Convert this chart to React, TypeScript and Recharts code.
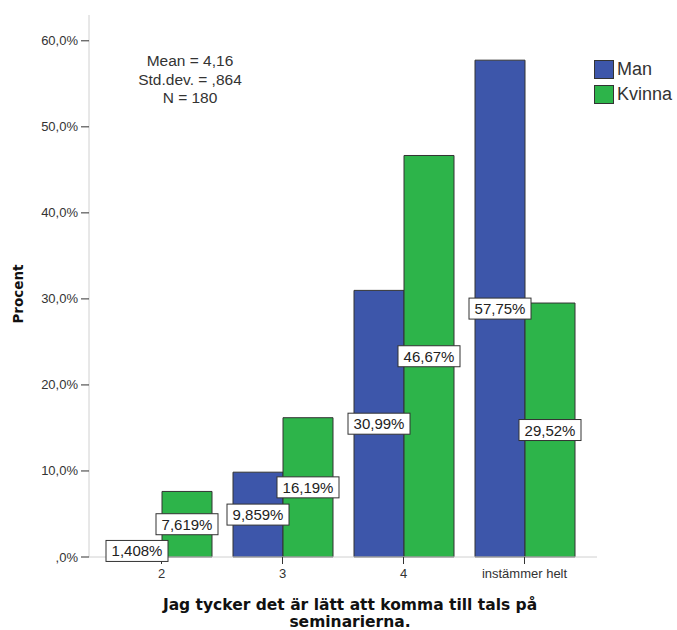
import { Bar, BarChart, LabelList, XAxis, YAxis } from 'recharts'

const categories = ['2', '3', '4', 'instämmer helt']
const manValues = [1.408, 9.859, 30.99, 57.75]
const kvinnaValues = [7.619, 16.19, 46.67, 29.52]
const manLabels = ['1,408%', '9,859%', '30,99%', '57,75%']
const kvinnaLabels = ['7,619%', '16,19%', '46,67%', '29,52%']
const yTicks = [0, 10, 20, 30, 40, 50, 60]
const yTickLabels = [',0%', '10,0%', '20,0%', '30,0%', '40,0%', '50,0%', '60,0%']
const statLines = ['Mean = 4,16', 'Std.dev. = ,864', 'N = 180']

const data = categories.map((c, i) => ({
  cat: c,
  man: manValues[i],
  kvinna: kvinnaValues[i],
  manLabel: manLabels[i],
  kvinnaLabel: kvinnaLabels[i],
}))

const BLUE = '#3D56AA'
const GREEN = '#2DB44A'
const FONT = '"Liberation Sans", Arial, sans-serif'
const TITLE_FONT = '"DejaVu Sans", sans-serif'

const BoxLabel = (props: any) => {
  const { x, y, width, height, value } = props
  const cx = x + width / 2
  const cy = y + height / 2
  const w = String(value).length * 9 + 8
  return (
    <g>
      <rect x={cx - w / 2} y={cy - 10.5} width={w} height={21} fill="#fff" stroke="#333" strokeWidth={1} />
      <text x={cx} y={cy + 5.5} textAnchor="middle" fontSize={15} fontFamily={FONT} fill="#222">
        {value}
      </text>
    </g>
  )
}

const YTick = (props: any) => {
  const { x, y, payload } = props
  const idx = yTicks.indexOf(payload.value)
  return (
    <text x={x - 1} y={y + 4.5} textAnchor="end" fontSize={13} fontFamily={FONT} fill="#333">
      {yTickLabels[idx]}
    </text>
  )
}

const XTick = (props: any) => {
  const { x, y, payload } = props
  return (
    <text x={x} y={y + 12} textAnchor="middle" fontSize={13} fontFamily={FONT} fill="#333">
      {payload.value}
    </text>
  )
}

export default function App() {
  return (
    <div style={{ position: 'absolute', left: 0, top: 0, width: 677, height: 630, background: '#fff', fontFamily: FONT }}>
      <BarChart
        width={677}
        height={630}
        data={data}
        margin={{ top: 15, right: 80, bottom: 43, left: 8 }}
        barCategoryGap={11}
        barGap={0}
      >
        <XAxis
          dataKey="cat"
          padding={{ left: 12, right: 12 }}
          axisLine={{ stroke: '#d0d0d0' }}
          tickLine={{ stroke: '#333' }}
          tickSize={7}
          tick={<XTick />}
          interval={0}
        />
        <YAxis
          width={81}
          domain={[0, 63]}
          ticks={yTicks}
          axisLine={{ stroke: '#d0d0d0' }}
          tickLine={{ stroke: '#333' }}
          tickSize={8}
          tick={<YTick />}
        />
        <Bar dataKey="man" fill={BLUE} stroke="#333" strokeWidth={1} isAnimationActive={false}>
          <LabelList dataKey="manLabel" content={<BoxLabel />} />
        </Bar>
        <Bar dataKey="kvinna" fill={GREEN} stroke="#333" strokeWidth={1} isAnimationActive={false}>
          <LabelList dataKey="kvinnaLabel" content={<BoxLabel />} />
        </Bar>
      </BarChart>

      {statLines.map((s, i) => (
        <div
          key={s}
          style={{ position: 'absolute', left: 90, width: 200, top: 51 + i * 18.5, textAlign: 'center', fontSize: 15.5, color: '#333', lineHeight: '19px' }}
        >
          {s}
        </div>
      ))}

      <div style={{ position: 'absolute', left: 594, top: 57, fontSize: 18, color: '#333' }}>
        {[
          ['Man', BLUE],
          ['Kvinna', GREEN],
        ].map(([name, color]) => (
          <div key={name} style={{ display: 'flex', alignItems: 'center', height: 25 }}>
            <span style={{ width: 20, height: 19, background: color, border: '1px solid #333', boxSizing: 'border-box', marginRight: 3 }} />
            <span>{name}</span>
          </div>
        ))}
      </div>

      <div
        style={{ position: 'absolute', left: 18, top: 294, transform: 'translate(-50%, -50%) rotate(-90deg)', fontWeight: 'bold', fontSize: 13.5, color: '#111', fontFamily: TITLE_FONT }}
      >
        Procent
      </div>

      <div style={{ position: 'absolute', left: 50, width: 600, top: 597, textAlign: 'center', fontWeight: 'bold', fontSize: 15.5, lineHeight: '17px', color: '#111', fontFamily: TITLE_FONT }}>
        Jag tycker det är lätt att komma till tals på
        <br />
        seminarierna.
      </div>
    </div>
  )
}
